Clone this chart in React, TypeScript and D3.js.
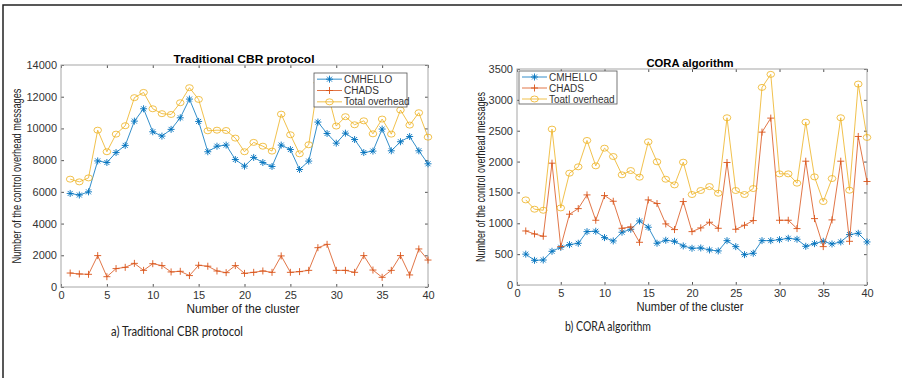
import React, { useEffect, useRef } from "react";
import * as d3 from "d3";

// cluster index 1..40
const clusters = d3.range(1, 41);
const xTicks = [0, 5, 10, 15, 20, 25, 30, 35, 40];

// a) Traditional CBR protocol
const cbrYTicks = [0, 2000, 4000, 6000, 8000, 10000, 12000, 14000];
const cbrCmhello = [
  5900, 5800, 6000, 7950, 7850, 8480, 8930, 10460, 11240, 9790,
  9515, 9940, 10670, 11850, 10440, 8530, 8880, 8950, 8040, 7620,
  8170, 7850, 7600, 8950, 8670, 7410, 7940, 10400, 9680, 9070,
  9700, 9300, 8480, 8570, 9960, 8590, 9160, 9490, 8590, 7770,
];
const cbrChads = [
  880, 820, 800, 1980, 650, 1160, 1240, 1490, 1050, 1470,
  1350, 950, 990, 720, 1370, 1310, 1010, 905, 1350, 860,
  925, 1010, 925, 1960, 925, 970, 1050, 2480, 2690, 1050,
  1050, 925, 1980, 1070, 610, 1050, 1980, 760, 2400, 1700,
];
const cbrTotal = [
  6800, 6630, 6880, 9890, 8530, 9640, 10170, 11940, 12270, 11240,
  10930, 10880, 11620, 12570, 11830, 9850, 9890, 9870, 9390, 8530,
  9120, 8880, 8570, 10900, 9600, 8400, 8970, 12880, 12370, 10150,
  10740, 10230, 10480, 9660, 10590, 9640, 11160, 10210, 10990, 9450,
];

// b) CORA algorithm
const coraYTicks = [0, 500, 1000, 1500, 2000, 2500, 3000, 3500];
const coraCmhello = [
  500, 400, 405, 546, 611, 654, 676, 865, 871, 768,
  714, 855, 903, 1038, 936, 676, 725, 708, 633, 595,
  600, 568, 552, 719, 622, 492, 514, 719, 719, 735,
  757, 741, 627, 670, 708, 665, 698, 817, 838, 698,
];
const coraChads = [
  876, 827, 790, 1974, 622, 1147, 1238, 1460, 1049, 1449,
  1357, 919, 941, 692, 1379, 1320, 990, 898, 1352, 865,
  925, 1017, 919, 1985, 903, 968, 1044, 2477, 2704, 1049,
  1049, 914, 2006, 1076, 622, 1055, 2006, 708, 2407, 1677,
];
const coraTotal = [
  1379, 1228, 1211, 2526, 1249, 1812, 1915, 2342, 1931, 2217,
  2082, 1785, 1855, 1747, 2320, 1996, 1714, 1622, 1990, 1466,
  1531, 1595, 1487, 2710, 1531, 1466, 1563, 3202, 3413, 1801,
  1801, 1650, 2639, 1752, 1352, 1725, 2710, 1536, 3256, 2391,
];

const colors = ["#0072BD", "#D95319", "#EDB120"];
const markers = ["star", "plus", "circle"];
const tickFont = "'Liberation Sans', Arial, sans-serif";

const panels = [
  {
    title: "Traditional CBR protocol",
    caption: "a) Traditional CBR protocol",
    names: ["CMHELLO", "CHADS", "Total overhead"],
    series: [cbrCmhello, cbrChads, cbrTotal],
    yMax: 14000,
    yTicks: cbrYTicks,
    left: 61, right: 428, top: 65, bottom: 287,
    titleX: 244, titleY: 63, titleLen: 141,
    yLabelX: 21, yLabelLen: 175,
    xLabelX: 243, xLabelY: 313, xLabelLen: 113,
    captionX: 177, captionY: 336, captionLen: 132,
    legend: { x: 314, y: 73, w: 93, h: 34 },
  },
  {
    title: "CORA algorithm",
    caption: "b) CORA algorithm",
    names: ["CMHELLO", "CHADS", "Toatl overhead"],
    series: [coraCmhello, coraChads, coraTotal],
    yMax: 3500,
    yTicks: coraYTicks,
    left: 517, right: 867, top: 69, bottom: 285,
    titleX: 690, titleY: 67, titleLen: 87,
    yLabelX: 485, yLabelLen: 170,
    xLabelX: 690, xLabelY: 311, xLabelLen: 107,
    captionX: 608, captionY: 331, captionLen: 86,
    legend: { x: 519, y: 71, w: 98, h: 33 },
  },
];

function drawMarker(g, type, cx, cy, color) {
  if (type === "circle") {
    g.append("ellipse")
      .attr("cx", cx).attr("cy", cy).attr("rx", 3.8).attr("ry", 3)
      .attr("fill", "none").attr("stroke", color).attr("stroke-width", 0.8);
  } else {
    const d = type === "star"
      ? "M-3.5,0H3.5M0,-3.5V3.5M-2.5,-2.5L2.5,2.5M-2.5,2.5L2.5,-2.5"
      : "M-3.5,0H3.5M0,-3.5V3.5";
    g.append("path")
      .attr("d", d)
      .attr("transform", `translate(${cx},${cy})`)
      .attr("fill", "none").attr("stroke", color).attr("stroke-width", 0.9);
  }
}

function drawPanel(svg, p) {
  const x = d3.scaleLinear().domain([0, 40]).range([p.left, p.right]);
  const y = d3.scaleLinear().domain([0, p.yMax]).range([p.bottom, p.top]);
  const g = svg.append("g");

  // axes with inward ticks
  const styleAxis = (a) => {
    a.select(".domain").remove();
    a.selectAll(".tick line").attr("stroke", "#555");
    a.selectAll(".tick text")
      .attr("fill", "#333").attr("font-size", 11).attr("font-family", tickFont);
  };
  g.append("g")
    .attr("transform", `translate(0,${p.bottom})`)
    .call(d3.axisBottom(x).tickValues(xTicks).tickSizeInner(-3).tickSizeOuter(0).tickPadding(4))
    .call(styleAxis);
  g.append("g")
    .attr("transform", `translate(0,${p.top})`)
    .call(d3.axisTop(x).tickValues(xTicks).tickSizeInner(-3).tickSizeOuter(0).tickFormat(() => ""))
    .call(styleAxis);
  g.append("g")
    .attr("transform", `translate(${p.left},0)`)
    .call(d3.axisLeft(y).tickValues(p.yTicks).tickSizeInner(-3).tickSizeOuter(0).tickPadding(4).tickFormat(d3.format("d")))
    .call(styleAxis);
  g.append("g")
    .attr("transform", `translate(${p.right},0)`)
    .call(d3.axisRight(y).tickValues(p.yTicks).tickSizeInner(-3).tickSizeOuter(0).tickFormat(() => ""))
    .call(styleAxis);

  g.append("rect")
    .attr("x", p.left).attr("y", p.top)
    .attr("width", p.right - p.left).attr("height", p.bottom - p.top)
    .attr("fill", "none").attr("stroke", "#a6a6a6").attr("stroke-width", 1);

  // series
  p.series.forEach((vals, si) => {
    const line = d3.line<number>()
      .x((d, i) => x(clusters[i]))
      .y((d) => y(d));
    g.append("path")
      .datum(vals)
      .attr("d", line)
      .attr("fill", "none")
      .attr("stroke", colors[si])
      .attr("stroke-width", 0.8);
    vals.forEach((v, i) => drawMarker(g, markers[si], x(clusters[i]), y(v), colors[si]));
  });

  // legend
  const L = p.legend;
  const lg = g.append("g");
  lg.append("rect")
    .attr("x", L.x).attr("y", L.y).attr("width", L.w).attr("height", L.h)
    .attr("fill", "#fff").attr("stroke", "#555").attr("stroke-width", 0.8);
  const rowH = L.h / 3;
  p.names.forEach((name, i) => {
    const cy = L.y + rowH * (i + 0.5) + 0.5;
    lg.append("line")
      .attr("x1", L.x + 3).attr("x2", L.x + 28)
      .attr("y1", cy).attr("y2", cy)
      .attr("stroke", colors[i]).attr("stroke-width", 0.8);
    drawMarker(lg, markers[i], L.x + 15.5, cy, colors[i]);
    lg.append("text")
      .attr("x", L.x + 30).attr("y", cy + 3.6)
      .attr("font-size", 10).attr("font-family", tickFont).attr("fill", "#333")
      .text(name);
  });

  // titles and labels
  g.append("text")
    .attr("x", p.titleX).attr("y", p.titleY)
    .attr("text-anchor", "middle")
    .attr("font-size", 11.5).attr("font-weight", "bold").attr("font-family", tickFont).attr("fill", "#000")
    .attr("textLength", p.titleLen).attr("lengthAdjust", "spacingAndGlyphs")
    .text(p.title);
  g.append("text")
    .attr("transform", `translate(${p.yLabelX},${(p.top + p.bottom) / 2}) rotate(-90)`)
    .attr("text-anchor", "middle")
    .attr("font-size", 12.5).attr("font-family", tickFont).attr("fill", "#222")
    .attr("textLength", p.yLabelLen).attr("lengthAdjust", "spacingAndGlyphs")
    .text("Number of the control overhead messages");
  g.append("text")
    .attr("x", p.xLabelX).attr("y", p.xLabelY)
    .attr("text-anchor", "middle")
    .attr("font-size", 12.5).attr("font-family", tickFont).attr("fill", "#222")
    .attr("textLength", p.xLabelLen).attr("lengthAdjust", "spacingAndGlyphs")
    .text("Number of the cluster");
  g.append("text")
    .attr("x", p.captionX).attr("y", p.captionY)
    .attr("text-anchor", "middle")
    .attr("font-size", 12.5).attr("font-family", "Lato, 'Open Sans', sans-serif").attr("fill", "#222")
    .attr("textLength", p.captionLen).attr("lengthAdjust", "spacingAndGlyphs")
    .text(p.caption);
}

const App = () => {
  const ref = useRef<SVGSVGElement>(null);

  useEffect(() => {
    const svg = d3.select(ref.current);
    svg.selectAll("*").remove();

    // outer frame (top and left edges)
    svg.append("path")
      .attr("d", "M3,378V5H902")
      .attr("fill", "none").attr("stroke", "#222").attr("stroke-width", 1.5);

    panels.forEach((p) => drawPanel(svg, p));
  }, []);

  return (
    <svg
      ref={ref}
      width={902}
      height={378}
      style={{ position: "absolute", left: 0, top: 0, background: "#fff" }}
    />
  );
};

export default App;
